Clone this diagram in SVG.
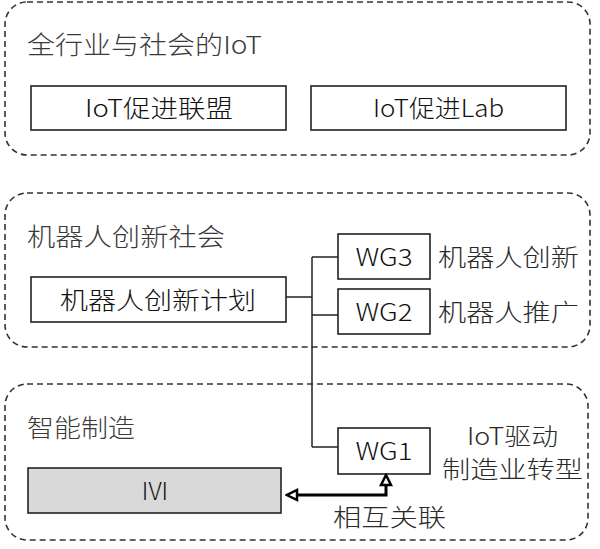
<svg xmlns="http://www.w3.org/2000/svg" width="600" height="549" viewBox="0 0 600 549">
<defs>
<style>
.grp{fill:none;stroke:#333;stroke-width:1.6;stroke-dasharray:6 4}
.box{fill:#fff;stroke:#222;stroke-width:1.6}
.gray{fill:#d9d9d9;stroke:#222;stroke-width:1.6}
text{font-family:"Noto Sans CJK SC","Noto Sans",sans-serif;fill:#222;font-weight:300}
.t{font-size:25px;fill:#3a3a3a}
.b{font-size:24px;text-anchor:middle;fill:#111}
.l{font-size:24px;fill:#2a2a2a}
.wire{fill:none;stroke:#222;stroke-width:1.5}
.thick{fill:none;stroke:#000;stroke-width:3}
</style>
<marker id="hollow" viewBox="-2 -7 14 14" markerWidth="14" markerHeight="14" refX="0" refY="0" orient="auto-start-reverse" markerUnits="userSpaceOnUse">
<path d="M0,-5 L10,0 L0,5 Z" fill="#fff" stroke="#000" stroke-width="2.5" stroke-linejoin="miter"/>
</marker>
</defs>
<rect width="600" height="549" fill="#fff"/>

<g id="group-iot">
<rect class="grp" x="5" y="2" width="585" height="153" rx="22"/>
<text class="t" x="27" y="54" textLength="235" lengthAdjust="spacingAndGlyphs">全行业与社会的IoT</text>
</g>
<g id="node-iot-alliance">
<rect class="box" x="31" y="86" width="255" height="44"/>
<text class="b" x="159" y="117" textLength="148" lengthAdjust="spacingAndGlyphs">IoT促进联盟</text>
</g>
<g id="node-iot-lab">
<rect class="box" x="311" y="86" width="255" height="44"/>
<text class="b" x="438.5" y="117" textLength="131" lengthAdjust="spacingAndGlyphs">IoT促进Lab</text>
</g>

<g id="group-robot">
<rect class="grp" x="5" y="193" width="585" height="154" rx="22"/>
<text class="t" x="27" y="246" textLength="198" lengthAdjust="spacingAndGlyphs">机器人创新社会</text>
</g>
<g id="node-robot-plan">
<rect class="box" x="31" y="277" width="255" height="45"/>
<text class="b" x="158" y="309" textLength="196" lengthAdjust="spacingAndGlyphs">机器人创新计划</text>
</g>
<g id="node-wg3">
<rect class="box" x="338" y="234" width="92" height="45"/>
<text class="b" x="384" y="266" textLength="57" lengthAdjust="spacingAndGlyphs">WG3</text>
<text class="l" x="438" y="266" textLength="141" lengthAdjust="spacingAndGlyphs">机器人创新</text>
</g>
<g id="node-wg2">
<rect class="box" x="338" y="289" width="92" height="45"/>
<text class="b" x="384" y="321" textLength="57" lengthAdjust="spacingAndGlyphs">WG2</text>
<text class="l" x="438" y="321" textLength="141" lengthAdjust="spacingAndGlyphs">机器人推广</text>
</g>

<g id="group-manufacturing">
<rect class="grp" x="5" y="384" width="583" height="156" rx="22"/>
<text class="t" x="27" y="437" textLength="108" lengthAdjust="spacingAndGlyphs">智能制造</text>
</g>
<g id="node-wg1">
<rect class="box" x="338" y="428" width="92" height="46"/>
<text class="b" x="384" y="460" textLength="57" lengthAdjust="spacingAndGlyphs">WG1</text>
<text class="l" x="467" y="445" textLength="91" lengthAdjust="spacingAndGlyphs">IoT驱动</text>
<text class="l" x="442" y="478" textLength="141" lengthAdjust="spacingAndGlyphs">制造业转型</text>
</g>
<g id="node-ivi">
<rect class="gray" x="28" y="468" width="253" height="45"/>
<text class="b" x="155" y="500" font-size="25">IVI</text>
</g>

<g id="connectors">
<path class="wire" d="M286 297 H312"/>
<path class="wire" d="M312 257 V447"/>
<path class="wire" d="M312 257 H338"/>
<path class="wire" d="M312 315 H338"/>
<path class="wire" d="M312 447 H338"/>
<path class="thick" d="M297 495 H386 V485" marker-start="url(#hollow)" marker-end="url(#hollow)"/>
<text class="l" x="333" y="526" textLength="113" lengthAdjust="spacingAndGlyphs">相互关联</text>
</g>
</svg>
